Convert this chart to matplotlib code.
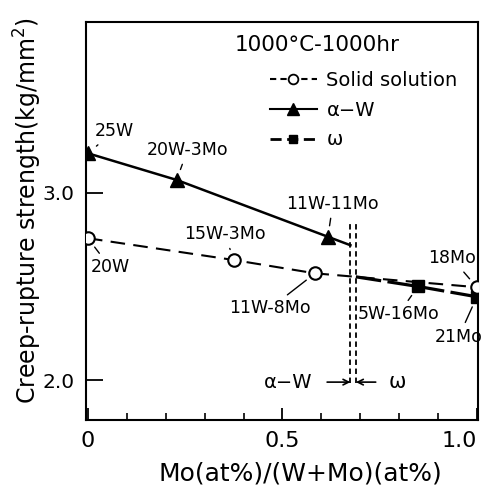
import matplotlib
matplotlib.use("Agg")
import matplotlib.pyplot as plt
from matplotlib.lines import Line2D
import numpy as np

plt.rcParams['font.family'] = ['DejaVu Sans']

# Solid solution alloys (open circles)
ss_x = [0.0, 0.375, 0.584, 1.0]
ss_y = [2.757, 2.641, 2.570, 2.496]
ss_names = ["20W", "15W-3Mo", "11W-8Mo", "18Mo"]

# alpha-W precipitated alloys (filled triangles)
aw_x = [0.0, 0.228, 0.617]
aw_y = [3.21, 3.068, 2.765]
aw_names = ["25W", "20W-3Mo", "11W-11Mo"]

# omega precipitated alloys (filled squares)
om_x = [0.849, 1.0]
om_y = [2.50, 2.445]
om_names = ["5W-16Mo", "21Mo"]

# alpha-W / omega phase boundary band
boundary_x = [0.675, 0.689]

# label offsets in pixels (dx, dy)
offsets = {
    "25W": (26, 22), "20W-3Mo": (11, 30), "11W-11Mo": (5, 33),
    "20W": (22, -29), "15W-3Mo": (-9, 26), "11W-8Mo": (-45, -35),
    "5W-16Mo": (-20, -28), "18Mo": (-25, 29), "21Mo": (-18, -40),
}

fig = plt.figure(figsize=(4.86, 4.95), dpi=100)
ax = fig.add_axes([86/486, 75/495, (478-86)/486, (420-22)/495])
ax.set_xlim(-0.005, 1.003)
ax.set_ylim(1.788, 3.91)

# alpha-W line continues to the phase boundary
slope = (aw_y[-1] - aw_y[-2]) / (aw_x[-1] - aw_x[-2])
aw_end_y = aw_y[-1] + slope * (boundary_x[0] - aw_x[-1])
ax.plot(aw_x + [boundary_x[0]], aw_y + [aw_end_y], color='black', lw=1.8, zorder=2)
ax.plot(aw_x, aw_y, linestyle='none', marker='^', ms=10, color='black', zorder=3)

# solid solution dashed line
ax.plot(ss_x, ss_y, color='black', lw=1.5, dashes=(7, 4), zorder=2)
ax.plot(ss_x, ss_y, linestyle='none', marker='o', ms=9, mfc='white',
        mec='black', mew=1.5, zorder=4)

# omega line starts at the boundary on the solid-solution curve
om_start_y = float(np.interp(boundary_x[1], ss_x, ss_y))
ax.plot([boundary_x[1]] + om_x, [om_start_y] + om_y, color='black', lw=2.3,
        dashes=(8, 2), zorder=2)
ax.plot(om_x, om_y, linestyle='none', marker='s', ms=8, color='black', zorder=3)

# phase boundary (double dashed verticals)
for bx in boundary_x:
    ax.plot([bx, bx], [1.985, 2.84], color='black', lw=1.3, dashes=(3, 2), zorder=1)

# region annotations
ax.annotate("", xy=(boundary_x[0], 1.99), xytext=(0.615, 1.99),
            arrowprops=dict(arrowstyle='->', lw=1.2, color='black', shrinkA=0, shrinkB=0))
ax.annotate("", xy=(boundary_x[1], 1.99), xytext=(0.74, 1.99),
            arrowprops=dict(arrowstyle='->', lw=1.2, color='black', shrinkA=0, shrinkB=0))
ax.text(0.515, 1.99, "α−W", fontsize=14, ha='center', va='center')
ax.text(0.795, 1.99, "ω", fontsize=15, ha='center', va='center')

# alloy labels with leader lines
for xs, ys, names in ((aw_x, aw_y, aw_names), (ss_x, ss_y, ss_names), (om_x, om_y, om_names)):
    for x, y, n in zip(xs, ys, names):
        dx, dy = offsets[n]
        ax.annotate(n, xy=(x, y), xytext=(dx, dy), textcoords='offset pixels',
                    fontsize=12.5, ha='center', va='center',
                    arrowprops=dict(arrowstyle='-', lw=1.0, color='black',
                                    shrinkA=2, shrinkB=8))

# axes styling
for s in ax.spines.values():
    s.set_linewidth(1.5)
ax.set_xticks([0, 0.5, 1.0])
ax.set_xticklabels(["0", "0.5", "1.0"])
ax.set_xticks(np.arange(0.1, 1.0, 0.1), minor=True)
ax.set_yticks([2.0, 3.0])
ax.set_yticklabels(["2.0", "3.0"])
ax.tick_params(axis='x', which='major', direction='in', length=9, width=1.3,
               labelsize=16, pad=8)
ax.tick_params(axis='x', which='minor', direction='in', length=5, width=1.2)
ax.tick_params(axis='y', which='major', direction='in', length=12, width=1.3,
               labelsize=14.5, pad=8)
ax.get_xticklabels()[-1].set_horizontalalignment('right')

ax.set_xlabel("Mo(at%)/(W+Mo)(at%)", fontsize=18, va='center')
ax.xaxis.set_label_coords((300-86)/392, -(474-420)/398)
ax.set_ylabel("Creep-rupture strength(kg/mm$^2$)", fontsize=17, va='center')
ax.yaxis.set_label_coords((28-86)/392, (420-211)/398)

# legend
fig.text(317/486, 1 - 45/495, "1000°C-1000hr", fontsize=15.5, ha='center', va='center')
handles = [
    Line2D([], [], color='black', lw=1.5, dashes=(3, 2), marker='o', ms=7,
           mfc='white', mec='black', mew=1.3),
    Line2D([], [], color='black', lw=1.5, marker='^', ms=8),
    Line2D([], [], color='black', lw=2.0, dashes=(4, 2), marker='s', ms=6),
]
ax.legend(handles, ["Solid solution", "α−W", "ω"], loc='upper left',
          bbox_to_anchor=(270/486, 1 - 71/495), bbox_transform=fig.transFigure,
          frameon=False, fontsize=14, handlelength=2.4, handletextpad=0.5,
          labelspacing=0.55, borderaxespad=0, borderpad=0)

fig.savefig("out.png", dpi=100)
